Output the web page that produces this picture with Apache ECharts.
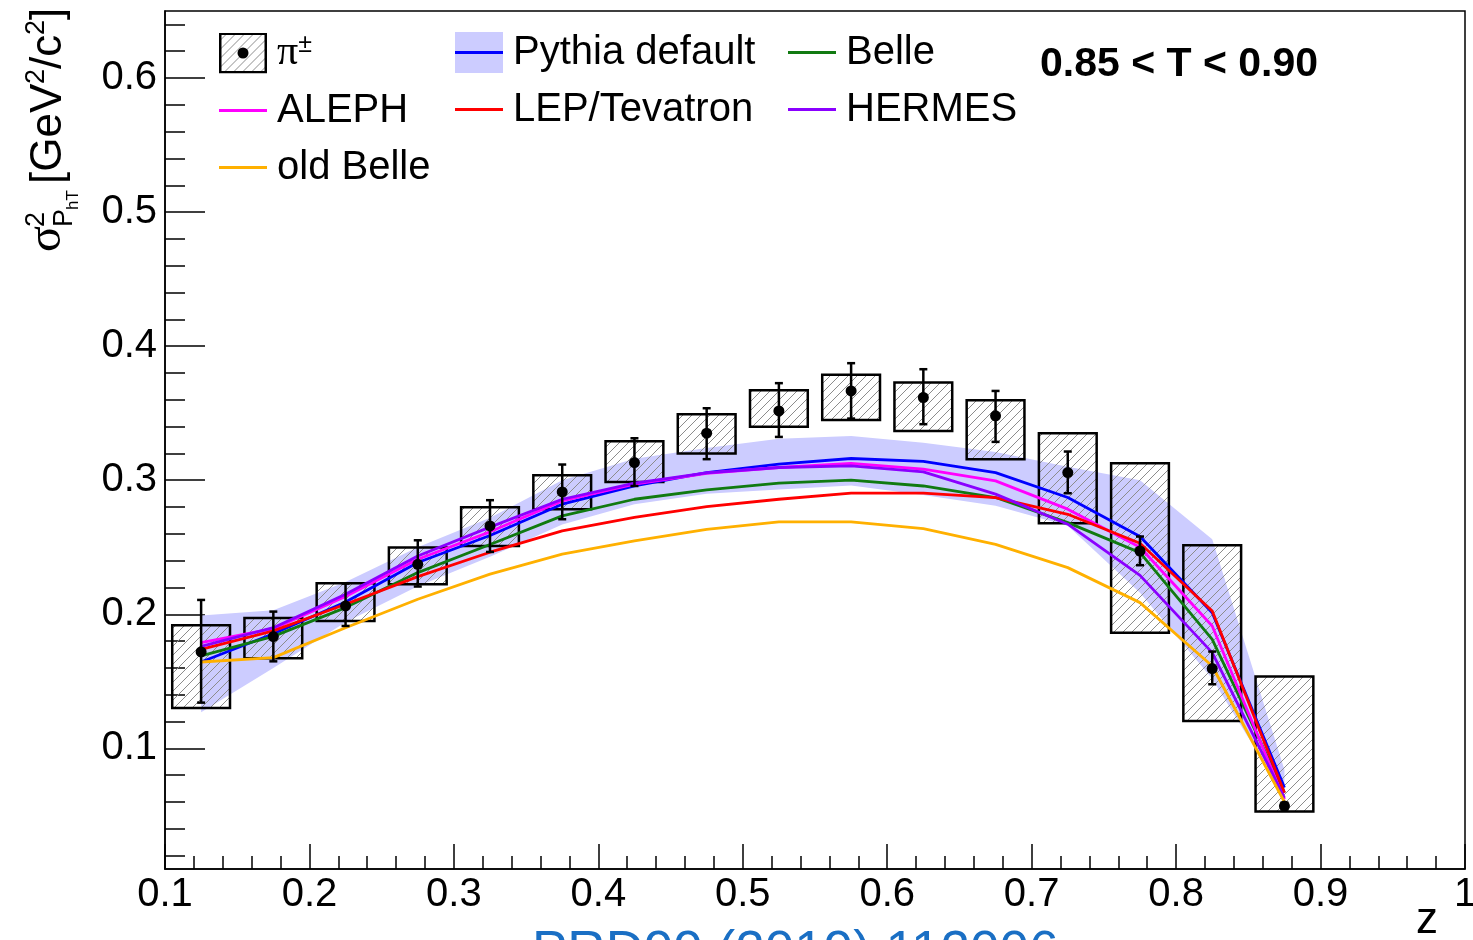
<!DOCTYPE html>
<html>
<head>
<meta charset="utf-8">
<title>sigma2 PhT vs z, 0.85 &lt; T &lt; 0.90</title>
<script src="https://cdn.jsdelivr.net/npm/echarts@6/dist/echarts.min.js"></script>
<style>
  html, body { margin: 0; padding: 0; background: #fff; }
  #chart { width: 1473px; height: 940px; }
</style>
</head>
<body>
<div id="chart"></div>
<script>
// z bin centres
const zBins = [0.125, 0.175, 0.225, 0.275, 0.325, 0.375, 0.425, 0.475,
               0.525, 0.575, 0.625, 0.675, 0.725, 0.775, 0.825, 0.875]

// pi+- data: value, stat. error range, syst. box range
const piVal  = [0.1719, 0.1834, 0.2062, 0.2373, 0.2659, 0.2913, 0.3132, 0.3351,
                0.3517, 0.3666, 0.3617, 0.3480, 0.3057, 0.2472, 0.1595, 0.0569]
const statLo = [0.1341, 0.1649, 0.1913, 0.2207, 0.2465, 0.2709, 0.2957, 0.3157,
                0.3323, 0.3460, 0.3418, 0.3286, 0.2903, 0.2366, 0.1478, 0.0545]
const statHi = [0.2107, 0.2020, 0.2229, 0.2552, 0.2851, 0.3117, 0.3313, 0.3537,
                0.3724, 0.3873, 0.3828, 0.3666, 0.3214, 0.2580, 0.1722, 0.0595]
const sysLo  = [0.1301, 0.1672, 0.1950, 0.2224, 0.2510, 0.2784, 0.2987, 0.3199,
                0.3398, 0.3450, 0.3368, 0.3157, 0.2679, 0.1863, 0.1204, 0.0528]
const sysHi  = [0.1918, 0.1972, 0.2231, 0.2498, 0.2799, 0.3037, 0.3291, 0.3493,
                0.3672, 0.3786, 0.3729, 0.3597, 0.3351, 0.3127, 0.2515, 0.1535]

// Pythia default uncertainty band
const pythiaLo = [0.127, 0.160, 0.194, 0.221, 0.243, 0.267, 0.282, 0.290,
                  0.293, 0.296, 0.289, 0.281, 0.266, 0.216, 0.152, 0.064]
const pythiaHi = [0.199, 0.203, 0.224, 0.250, 0.272, 0.300, 0.316, 0.324,
                  0.331, 0.333, 0.328, 0.321, 0.310, 0.300, 0.256, 0.084]

// model curves
const pythiaDefault = [0.1644, 0.1855, 0.2092, 0.2386, 0.2588, 0.2821, 0.2958, 0.3057,
                       0.3120, 0.3162, 0.3140, 0.3057, 0.2871, 0.2580, 0.2012, 0.0707]
const belle    = [0.1689, 0.1835, 0.2050, 0.2311, 0.2520, 0.2734, 0.2858, 0.2928,
                  0.2978, 0.3000, 0.2957, 0.2871, 0.2684, 0.2460, 0.1813, 0.0669]
const aleph    = [0.1789, 0.1893, 0.2132, 0.2410, 0.2615, 0.2846, 0.2970, 0.3052,
                  0.3095, 0.3125, 0.3082, 0.2995, 0.2784, 0.2500, 0.1913, 0.0619]
const lepTev   = [0.1739, 0.1876, 0.2075, 0.2281, 0.2463, 0.2622, 0.2722, 0.2803,
                  0.2858, 0.2903, 0.2903, 0.2870, 0.2746, 0.2530, 0.2025, 0.0669]
const hermes   = [0.1760, 0.1900, 0.2149, 0.2435, 0.2650, 0.2858, 0.2978, 0.3055,
                  0.3095, 0.3107, 0.3062, 0.2896, 0.2672, 0.2290, 0.1714, 0.0630]
const oldBelle = [0.1644, 0.1677, 0.1900, 0.2112, 0.2300, 0.2448, 0.2547, 0.2634,
                  0.2689, 0.2689, 0.2639, 0.2522, 0.2348, 0.2087, 0.1614, 0.0600]

// y axis tick values
const yMajorTicks = [0.1, 0.2, 0.3, 0.4, 0.5, 0.6]
const yMinorTicks = [0.02, 0.04, 0.06, 0.08, 0.12, 0.14, 0.16, 0.18, 0.22, 0.24, 0.26, 0.28,
                     0.32, 0.34, 0.36, 0.38, 0.42, 0.44, 0.46, 0.48, 0.52, 0.54, 0.56, 0.58,
                     0.62, 0.64]

const FONT = "'Liberation Sans', Arial, Helvetica, sans-serif"
const SERIF = "'Liberation Serif', 'Times New Roman', serif"
const BAND = '#ccccff'
const COLORS = {
  'Pythia default': '#0000ff', 'Belle': '#117a11', 'ALEPH': '#ff00ff',
  'LEP/Tevatron': '#ff0000', 'HERMES': '#8a00ff', 'old Belle': '#ffb000'
}
const LINE_W = 2.8
const boxHalf = 0.02
const capHalf = 4
const dotR = 5.5

// hatch pattern for the systematic boxes
const hatchCanvas = document.createElement('canvas')
hatchCanvas.width = 9
hatchCanvas.height = 9
const hctx = hatchCanvas.getContext('2d')
hctx.strokeStyle = '#8c8c8c'
hctx.lineWidth = 1
hctx.beginPath()
hctx.moveTo(0, 9); hctx.lineTo(9, 0)
hctx.moveTo(-1, 1); hctx.lineTo(1, -1)
hctx.moveTo(8, 10); hctx.lineTo(10, 8)
hctx.stroke()
const hatch = { image: hatchCanvas, repeat: 'repeat' }

// legend icons as small inline svgs
const svgIcon = body => 'image://data:image/svg+xml;charset=utf-8,' + encodeURIComponent(
  "<svg xmlns='http://www.w3.org/2000/svg' width='48' height='41'>" + body + "</svg>")
const piIcon = svgIcon(
  "<defs><pattern id='h' width='9' height='9' patternUnits='userSpaceOnUse'>" +
  "<path d='M0,9 L9,0 M-1,1 L1,-1 M8,10 L10,8' stroke='#8c8c8c' stroke-width='1'/></pattern></defs>" +
  "<rect x='1.25' y='1.25' width='45.5' height='38.5' fill='url(#h)' stroke='#000' stroke-width='2.5'/>" +
  "<circle cx='24' cy='20.5' r='5.5' fill='#000'/>")
const lineIcon = color => svgIcon(
  "<line x1='0' y1='20.5' x2='48' y2='20.5' stroke='" + color + "' stroke-width='" + LINE_W + "'/>")
const pythiaIcon = svgIcon(
  "<rect x='0' y='0' width='48' height='41' fill='" + BAND + "'/>" +
  "<line x1='0' y1='20.5' x2='48' y2='20.5' stroke='#0000ff' stroke-width='" + LINE_W + "'/>")
const legendItem = name => ({ name, icon: lineIcon(COLORS[name]) })

const piRows = zBins.map((z, i) => [z, piVal[i], statLo[i], statHi[i], sysLo[i], sysHi[i]])

const lineSeries = (name, data) => ({
  name, type: 'line', z: 3, symbol: 'none', showSymbol: false,
  lineStyle: { color: COLORS[name], width: LINE_W }, itemStyle: { color: COLORS[name] },
  data: zBins.map((z, i) => [z, data[i]])
})

const legendBase = {
  orient: 'vertical', top: 32, padding: 0, itemWidth: 48, itemHeight: 41, itemGap: 16,
  selectedMode: false,
  textStyle: {
    fontSize: 40, fontFamily: FONT, color: '#000', lineHeight: 41, padding: [0, 0, 0, 5],
    rich: {
      pi: { fontSize: 42, fontFamily: SERIF, lineHeight: 41 },
      pm: { fontSize: 25, fontFamily: FONT, lineHeight: 25, verticalAlign: 'top' }
    }
  },
  formatter: name => name === 'π±' ? '{pi|π}{pm|±}' : name
}

const chart = echarts.init(document.getElementById('chart'))

chart.setOption({
  animation: false,
  backgroundColor: '#fff',
  title: [
    { text: '0.85 < T < 0.90', left: 1040, top: 44, padding: 0,
      textStyle: { fontSize: 41, fontWeight: 'bold', fontFamily: FONT, color: '#000' } },
    { text: 'PRD99 (2019) 112006', left: 532, top: 927, padding: 0,
      textStyle: { fontSize: 53, fontWeight: 'normal', fontFamily: FONT, color: '#1a6fc4' } }
  ],
  legend: [
    Object.assign({}, legendBase, { left: 219,
      data: [{ name: 'π±', icon: piIcon }, legendItem('ALEPH'), legendItem('old Belle')] }),
    Object.assign({}, legendBase, { left: 455,
      data: [{ name: 'Pythia default', icon: pythiaIcon }, legendItem('LEP/Tevatron')] }),
    Object.assign({}, legendBase, { left: 788,
      data: [legendItem('Belle'), legendItem('HERMES')] })
  ],
  grid: { left: 165, right: 8, top: 11, bottom: 71, show: true, outerBoundsMode: 'none',
          containLabel: false,
          borderColor: '#000', borderWidth: 1.5, backgroundColor: 'transparent' },
  xAxis: {
    type: 'value', min: 0.1, max: 1.0, interval: 0.1,
    axisLine: { onZero: false, lineStyle: { color: '#000', width: 1.5 } },
    axisTick: { inside: true, length: 25, lineStyle: { color: '#000', width: 1.5 } },
    minorTick: { show: true, splitNumber: 5, length: 13, lineStyle: { color: '#000', width: 1.5 } },
    splitLine: { show: false },
    axisLabel: { fontSize: 40, fontFamily: FONT, color: '#000', margin: 6,
                 showMinLabel: true, showMaxLabel: true },
    name: 'z', nameLocation: 'end', nameGap: -27,
    nameTextStyle: { fontSize: 44, fontFamily: FONT, color: '#000',
                     align: 'right', verticalAlign: 'top', padding: [30, 0, 0, 0] }
  },
  yAxis: [
    {
      type: 'value', min: 0.01, max: 0.65, position: 'left',
      axisLine: { show: true, onZero: false, lineStyle: { color: '#000', width: 1.5 } },
      axisTick: { show: true, inside: true, length: 40, customValues: yMajorTicks,
                  lineStyle: { color: '#000', width: 1.5 } },
      axisLabel: { customValues: yMajorTicks, formatter: v => v.toFixed(1),
                   fontSize: 40, fontFamily: FONT, color: '#000', margin: 8 },
      splitLine: { show: false }
    },
    {
      type: 'value', min: 0.01, max: 0.65, position: 'left', offset: 0,
      axisLine: { show: false },
      axisTick: { show: true, inside: true, length: 20, customValues: yMinorTicks,
                  lineStyle: { color: '#000', width: 1.5 } },
      axisLabel: { show: false },
      splitLine: { show: false }
    }
  ],
  graphic: [
    {
      // y axis title, rotated to read bottom-to-top
      type: 'group', x: 61, y: 252, rotation: Math.PI / 2,
      children: [
        { type: 'text', x: 0, y: 10, style: { text: 'σ', font: '48px ' + SERIF, fill: '#000', verticalAlign: 'bottom' } },
        { type: 'text', x: 25, y: -11, style: { text: '2', font: '27px ' + FONT, fill: '#000', verticalAlign: 'bottom' } },
        { type: 'text', x: 25, y: 17, style: { text: 'P', font: '27px ' + FONT, fill: '#000', verticalAlign: 'bottom' } },
        { type: 'text', x: 42, y: 21, style: { text: 'hT', font: '17px ' + FONT, fill: '#000', verticalAlign: 'bottom' } },
        { type: 'text', x: 68, y: 10, style: { text: '[GeV', font: '44px ' + FONT, fill: '#000', verticalAlign: 'bottom' } },
        { type: 'text', x: 168, y: -11, style: { text: '2', font: '27px ' + FONT, fill: '#000', verticalAlign: 'bottom' } },
        { type: 'text', x: 183, y: 10, style: { text: '/c', font: '44px ' + FONT, fill: '#000', verticalAlign: 'bottom' } },
        { type: 'text', x: 217, y: -11, style: { text: '2', font: '27px ' + FONT, fill: '#000', verticalAlign: 'bottom' } },
        { type: 'text', x: 232, y: 10, style: { text: ']', font: '44px ' + FONT, fill: '#000', verticalAlign: 'bottom' } }
      ]
    }
  ],
  series: [
    {
      name: 'Pythia band', type: 'custom', z: 1, silent: true,
      data: zBins.map((z, i) => [z, pythiaLo[i], pythiaHi[i]]),
      renderItem: (params, api) => {
        if (params.dataIndex !== 0) return null
        const upper = zBins.map((z, i) => api.coord([z, pythiaHi[i]]))
        const lower = zBins.map((z, i) => api.coord([z, pythiaLo[i]])).reverse()
        return { type: 'polygon', shape: { points: upper.concat(lower) }, style: { fill: BAND } }
      }
    },
    {
      name: 'π±', type: 'custom', z: 2, data: piRows,
      itemStyle: { color: '#000' },
      renderItem: (params, api) => {
        const x = api.value(0)
        const p1 = api.coord([x - boxHalf, api.value(5)])
        const p2 = api.coord([x + boxHalf, api.value(4)])
        return {
          type: 'rect',
          shape: { x: p1[0], y: p1[1], width: p2[0] - p1[0], height: p2[1] - p1[1] },
          style: { fill: hatch, stroke: '#000', lineWidth: 2.5 }
        }
      }
    },
    lineSeries('Pythia default', pythiaDefault),
    lineSeries('Belle', belle),
    lineSeries('ALEPH', aleph),
    lineSeries('LEP/Tevatron', lepTev),
    lineSeries('HERMES', hermes),
    lineSeries('old Belle', oldBelle),
    {
      name: 'π±', type: 'custom', z: 4, data: piRows,
      itemStyle: { color: '#000' },
      renderItem: (params, api) => {
        const x = api.value(0)
        const c = api.coord([x, api.value(1)])
        const lo = api.coord([x, api.value(2)])
        const hi = api.coord([x, api.value(3)])
        const st = { stroke: '#000', lineWidth: 2.5 }
        return {
          type: 'group',
          children: [
            { type: 'line', shape: { x1: c[0], y1: lo[1], x2: c[0], y2: hi[1] }, style: st },
            { type: 'line', shape: { x1: c[0] - capHalf, y1: lo[1], x2: c[0] + capHalf, y2: lo[1] }, style: st },
            { type: 'line', shape: { x1: c[0] - capHalf, y1: hi[1], x2: c[0] + capHalf, y2: hi[1] }, style: st },
            { type: 'circle', shape: { cx: c[0], cy: c[1], r: dotR }, style: { fill: '#000' } }
          ]
        }
      }
    }
  ]
})
</script>
</body>
</html>
